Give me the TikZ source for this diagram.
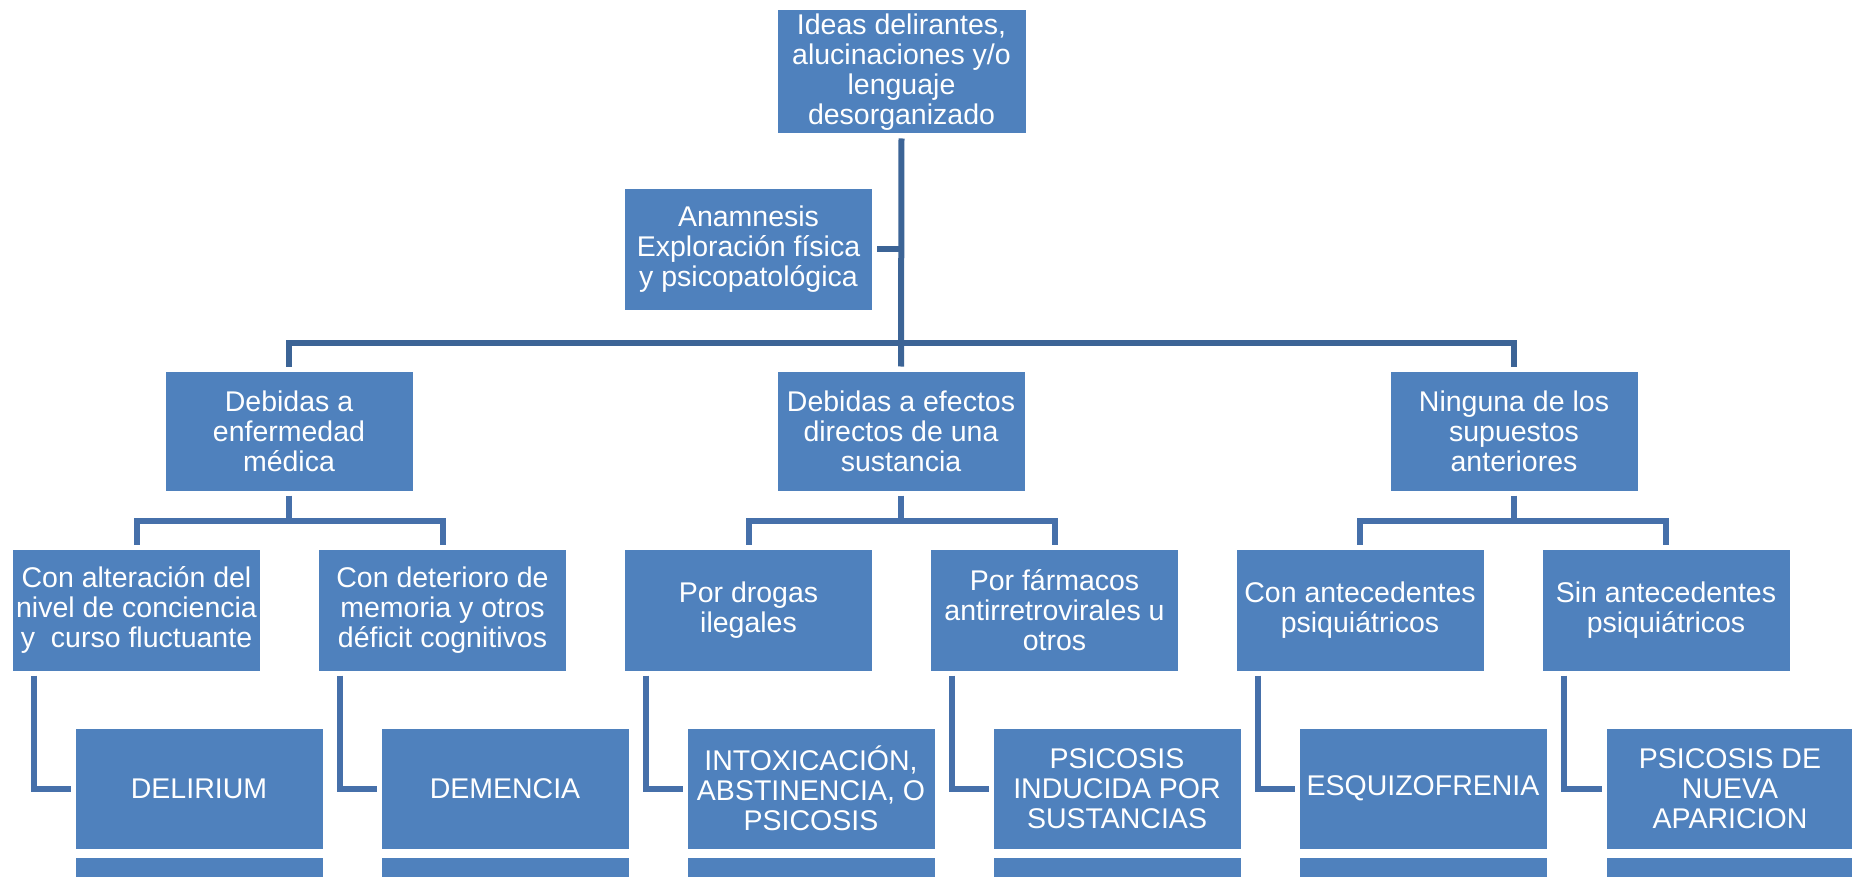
\documentclass[tikz,border=0pt]{standalone}
\usepackage{fontspec}
\setmainfont{Liberation Sans}
\definecolor{boxblue}{RGB}{79,129,189}
\definecolor{mainln}{RGB}{60,100,150}
\definecolor{subln}{RGB}{70,112,170}
\begin{document}
\begin{tikzpicture}[x=1pt,y=-1pt,
  bx/.style={rectangle,fill=boxblue,draw=white,line width=1pt,text=white,align=center,
    inner sep=0pt,minimum width=248pt,minimum height=121pt,
    font=\fontsize{28.5}{30}\selectfont},
  mainline/.style={draw=mainln,line width=6pt},
  subline/.style={draw=subln,line width=6pt},
  gapped/.style={shorten <=4pt,shorten >=4pt}]
\useasboundingbox (0,0) rectangle (1852,877);
\clip (0,0) rectangle (1852,877);
% top
\node[bx,minimum width=249pt,minimum height=124pt] (top) at (901.5,72) {Ideas delirantes,\\alucinaciones y/o\\lenguaje\\desorganizado};
\node[bx] (anam) at (748.5,249.5) {Anamnesis\\Exploración física\\y psicopatológica};
% level 2
\node[bx,minimum height=120pt] (l2a) at (289,431) {Debidas a\\enfermedad\\médica};
\node[bx,minimum height=120pt] (l2b) at (901,431) {Debidas a efectos\\directos de una\\sustancia};
\node[bx,minimum height=120pt] (l2c) at (1514,431) {Ninguna de los\\supuestos\\anteriores};
% level 3
\node[bx,minimum height=122pt] (l3a) at (136.5,610) {Con alteración del\\nivel de conciencia\\y\ \ curso fluctuante};
\node[bx,minimum height=122pt] (l3b) at (442.5,610) {Con deterioro de\\memoria y otros\\déficit cognitivos};
\node[bx,minimum height=122pt] (l3c) at (748.5,610) {Por drogas\\ilegales};
\node[bx,minimum height=122pt] (l3d) at (1054.5,610) {Por fármacos\\antirretrovirales u\\otros};
\node[bx,minimum height=122pt] (l3e) at (1360,610) {Con antecedentes\\psiquiátricos};
\node[bx,minimum height=122pt] (l3f) at (1666,610) {Sin antecedentes\\psiquiátricos};
% level 4
\node[bx] (l4a) at (199,788.5) {DELIRIUM};
\node[bx] (l4b) at (505,788.5) {DEMENCIA};
\node[bx] (l4c) at (811,788.5) {INTOXICACIÓN,\\ABSTINENCIA, O\\PSICOSIS};
\node[bx] (l4d) at (1117,788.5) {PSICOSIS\\INDUCIDA POR\\SUSTANCIAS};
\node[bx] (l4e) at (1423,788.5) {ESQUIZOFRENIA};
\node[bx] (l4f) at (1730,788.5) {PSICOSIS DE\\NUEVA\\APARICION};
% level 5 (cut off)
\node[bx] (l5a) at (199,918) {};
\node[bx] (l5b) at (505,918) {};
\node[bx] (l5c) at (811,918) {};
\node[bx] (l5d) at (1117,918) {};
\node[bx] (l5e) at (1423,918) {};
\node[bx] (l5f) at (1730,918) {};
% junction coordinates
\coordinate (j0) at (901.5,343);
\coordinate (ja) at (289,521);
\coordinate (jb) at (901,521);
\coordinate (jc) at (1514,521);
% main connectors
\draw[mainline,gapped] (top.south) -- (l2b.north);
\draw[mainline,shorten <=4pt] (anam.east) -- (anam.east -| top.south);
\draw[mainline,gapped] (l2a.north) |- (j0) -| (l2c.north);
% level 2 -> 3
\draw[subline,shorten <=4pt] (l2a.south) -- (ja);
\draw[subline,gapped] (l3a.north) |- (ja) -| (l3b.north);
\draw[subline,shorten <=4pt] (l2b.south) -- (jb);
\draw[subline,gapped] (l3c.north) |- (jb) -| (l3d.north);
\draw[subline,shorten <=4pt] (l2c.south) -- (jc);
\draw[subline,gapped] (l3e.north) |- (jc) -| (l3f.north);
% elbows level 3 -> 4
\draw[subline,gapped] ([xshift=22pt]l3a.south west) |- (l4a.west);
\draw[subline,gapped] ([xshift=22pt]l3b.south west) |- (l4b.west);
\draw[subline,gapped] ([xshift=22pt]l3c.south west) |- (l4c.west);
\draw[subline,gapped] ([xshift=22pt]l3d.south west) |- (l4d.west);
\draw[subline,gapped] ([xshift=22pt]l3e.south west) |- (l4e.west);
\draw[subline,gapped] ([xshift=22pt]l3f.south west) |- (l4f.west);
\end{tikzpicture}
\end{document}
